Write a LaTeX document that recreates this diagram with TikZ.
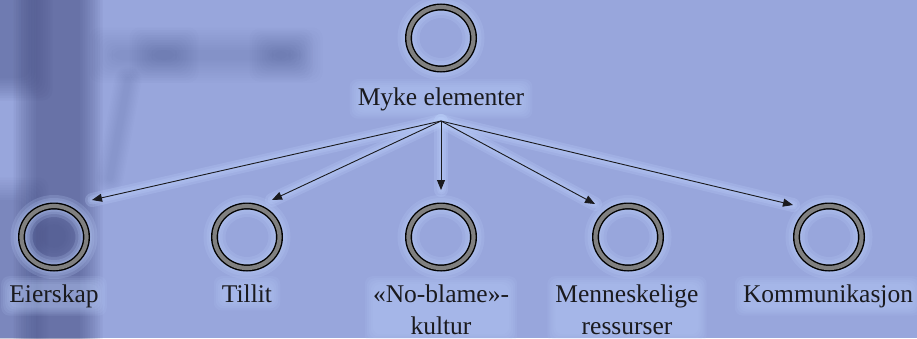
\documentclass[tikz,border=0pt]{standalone}
\usepackage{fontspec}
\setmainfont{Liberation Serif}
\usetikzlibrary{arrows.meta,shapes.geometric}

\definecolor{bgblue}{RGB}{152,166,220}
\definecolor{haze}{RGB}{184,204,248}
\definecolor{pole}{RGB}{62,70,122}
\definecolor{bandgray}{RGB}{128,128,128}
\definecolor{ink}{RGB}{26,26,30}

\pgfdeclarelayer{backdrop}
\pgfdeclarelayer{halo}
\pgfsetlayers{backdrop,halo,main}

% soft-edged dark patch: x1,y1,x2,y2,opacity per layer
\newcommand\hazypatch[5]{%
  \foreach \k in {9,...,0}{%
    \fill[pole, opacity=#5, rounded corners=10pt]
      (#1-\k*2.5, #2-\k*2.5) rectangle (#3+\k*2.5, #4+\k*2.5);
  }%
}
% soft light glow behind a label node
\newcommand\labelglow[1]{%
  \foreach \g in {8,6,4,2,0}{%
    \fill[haze, opacity=0.12, rounded corners=8pt]
      ([shift={(-\g pt,-\g pt)}]#1.south west) rectangle ([shift={(\g pt,\g pt)}]#1.north east);
  }%
}

\tikzset{
  ring/.style={ellipse, draw=black, line width=1.4pt, double=bandgray,
               double distance=4.2pt, minimum width=65pt, minimum height=62pt, inner sep=0pt},
  lbl/.style={font=\fontsize{25.5}{32}\selectfont, text=ink, inner sep=0pt,
              align=center, anchor=base},
  link/.style={draw=ink, line width=0.9pt, -{Triangle[length=10pt,width=8pt]}},
  linkglow/.style={draw=haze, line cap=round, opacity=0.25},
  ringglow/.style={draw=haze, opacity=0.2},
}

\begin{document}
\begin{tikzpicture}[x=1pt, y=-1pt]
  \useasboundingbox (0,0) rectangle (917,338);

  % ---- nodes ----
  \node[ring] (top) at (441,38) {};
  \node[lbl]  (topl) at (441,105) {Myke elementer};
  \coordinate (apex) at (441,121);

  \node[ring] (r1) at (54,237)  {};
  \node[ring] (r2) at (247,237) {};
  \node[ring] (r3) at (441,237) {};
  \node[ring] (r4) at (628,237) {};
  \node[ring] (r5) at (829,237) {};

  % one-line labels sit on the first baseline, two-line ones on the second
  \node[lbl] (l1) at (54,302)  {Eierskap};
  \node[lbl] (l2) at (247,302) {Tillit};
  \node[lbl] (l3) at (441,334) {«No-blame»-\\kultur};
  \node[lbl] (l4) at (627,334) {Menneskelige\\ressurser};
  \node[lbl] (l5) at (828,302) {Kommunikasjon};

  % arrow end points above each ring
  \coordinate (e1) at (92,200);
  \coordinate (e2) at (272,200);
  \coordinate (e3) at (441,190);
  \coordinate (e4) at (595,204);
  \coordinate (e5) at (793,205);

  % ---- connectors ----
  \foreach \e in {e1,e2,e3,e4,e5}{
    \draw[link] (apex) -- (\e);
  }

  % ---- background and blurred shapes ----
  \begin{pgfonlayer}{backdrop}
    \fill[bgblue] (0,0) rectangle (917,338);
    % upright post and cross bar
    \hazypatch{36}{-30}{80}{370}{0.065}
    \hazypatch{-30}{-30}{30}{78}{0.05}
    \hazypatch{-30}{200}{26}{370}{0.03}
    \hazypatch{112}{50}{300}{60}{0.018}
    \hazypatch{152}{50}{176}{60}{0.02}
    \hazypatch{272}{51}{290}{59}{0.018}
    % faint slanted strut
    \foreach \k in {7,...,0}{
      \draw[pole, opacity=0.02, line width=6pt+\k*3pt, line cap=round] (128,80) -- (110,178);
    }
    % dark core seen through the left ring
    \foreach \k in {7,...,0}{
      \fill[pole, opacity=0.04] (54,236) circle (12pt+\k*2.5pt);
    }
  \end{pgfonlayer}

  % ---- light halos ----
  \begin{pgfonlayer}{halo}
    \foreach \w in {14,9,5}{
      \foreach \e in {e1,e2,e3,e4,e5}{
        \draw[linkglow, line width=\w pt] (apex) -- (\e);
      }
    }
    \foreach \r in {top,r1,r2,r3,r4,r5}{
      \foreach \w in {22,16,11}{
        \draw[ringglow, line width=\w pt] (\r.center) ellipse [x radius=32.5pt, y radius=31pt];
      }
    }
    \foreach \n in {topl,l1,l2,l3,l4,l5}{
      \labelglow{\n}
    }
  \end{pgfonlayer}
\end{tikzpicture}
\end{document}
